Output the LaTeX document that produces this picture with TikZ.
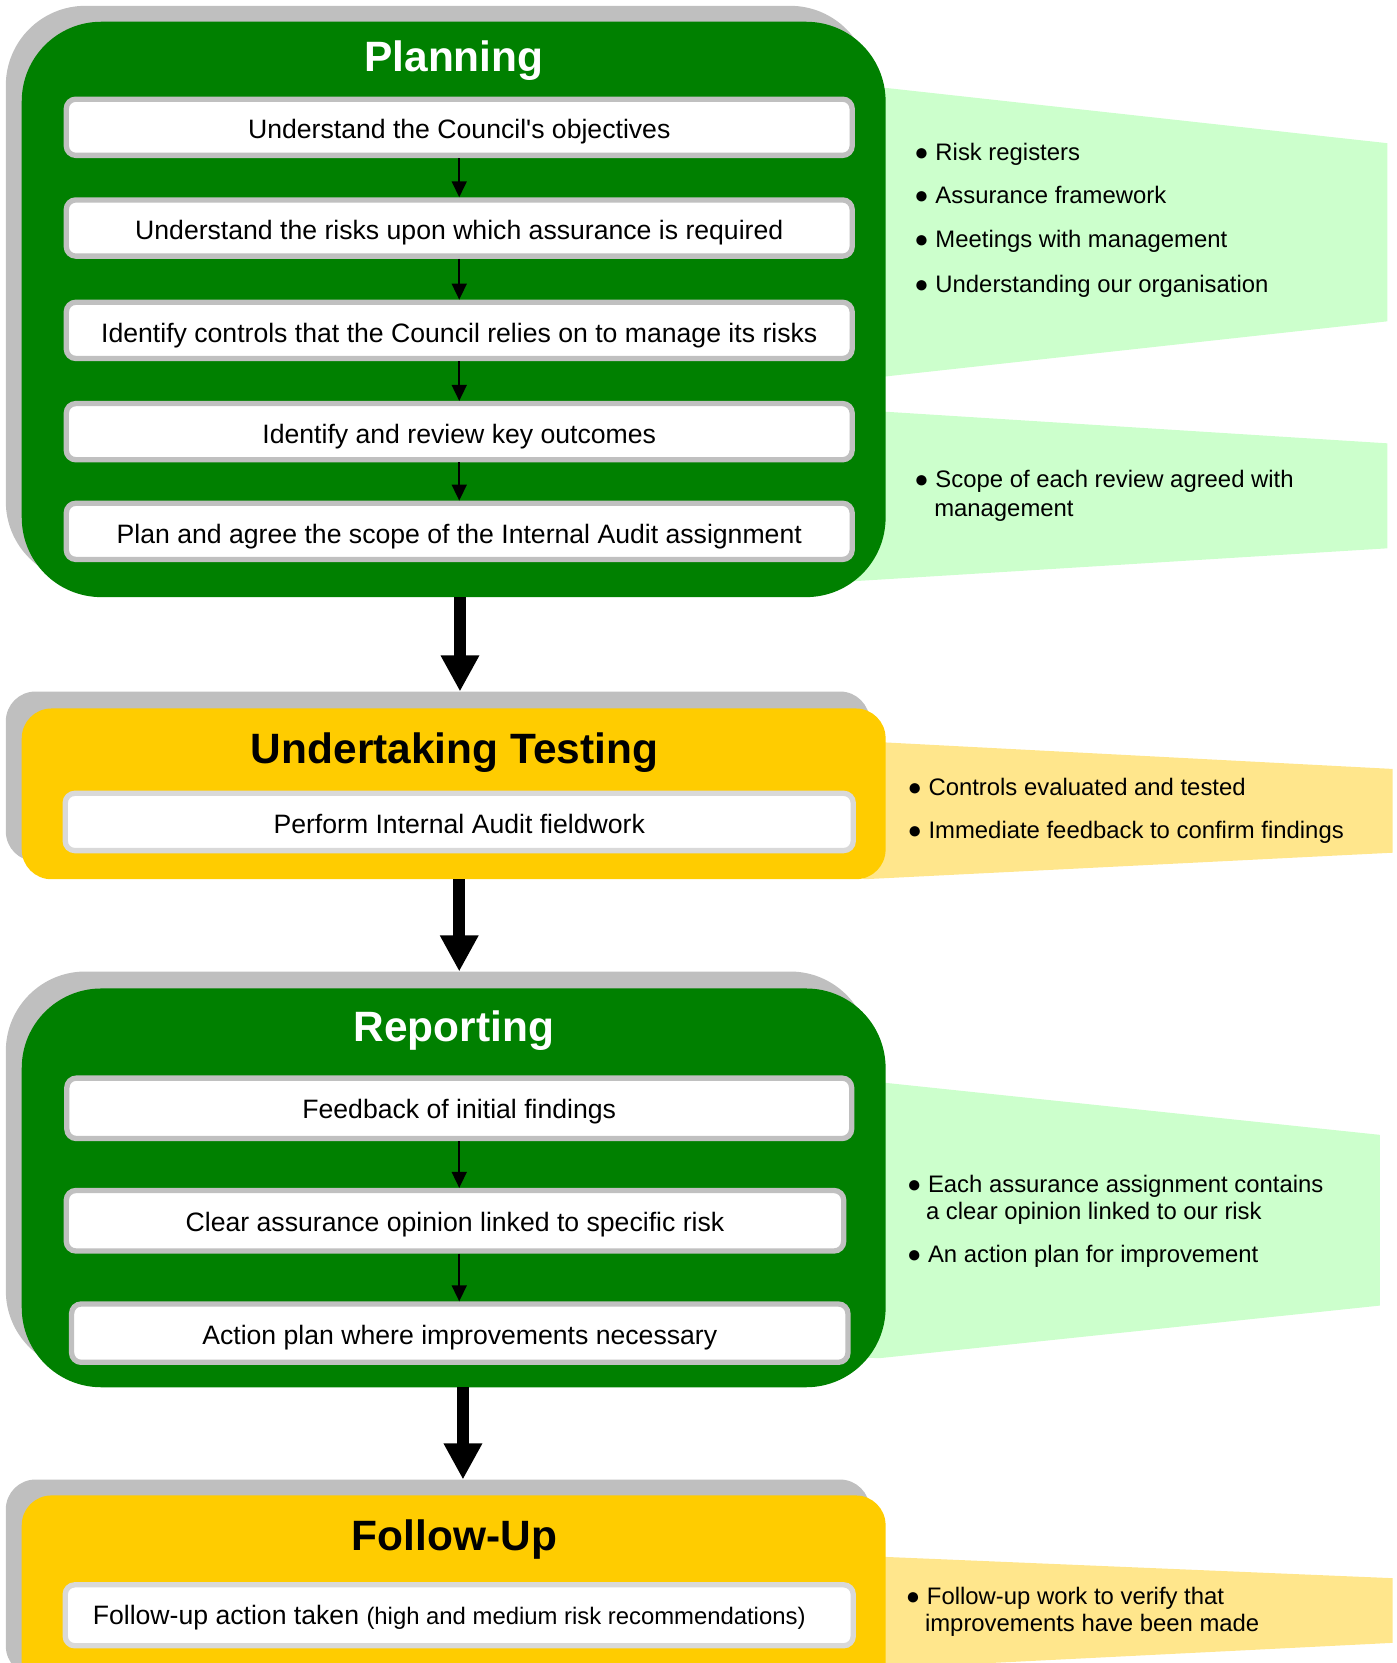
\documentclass[tikz,border=0pt]{standalone}
\usepackage{fontspec}
\setmainfont{Liberation Sans}[Ligatures=TeXOff]
\usetikzlibrary{arrows.meta,calc}
\definecolor{phgreen}{HTML}{008000}
\definecolor{palegreen}{HTML}{CCFFCC}
\definecolor{phgold}{HTML}{FFCC00}
\definecolor{paleyellow}{HTML}{FFE68C}
\definecolor{shadowgray}{HTML}{BFBFBF}
\definecolor{boxgray}{HTML}{C0C0C0}
\definecolor{boxlight}{HTML}{D9D9D9}
\begin{document}
\begin{tikzpicture}[x=1pt,y=-1pt,
  phase/.style={inner sep=0pt, outer sep=0pt, minimum width=814.5pt},
  stepbox/.style={draw=boxgray, fill=white, line width=5pt, rounded corners=9pt,
     inner sep=0pt, outer sep=0pt, minimum width=741pt, minimum height=53pt,
     text height=22pt, text depth=0pt, font=\fontsize{25.1}{30}\selectfont},
  lightbox/.style={stepbox, draw=boxlight},
  phtitle/.style={anchor=base, inner sep=0pt, font=\fontsize{40}{48}\selectfont\bfseries},
  note/.style={anchor=base west, inner sep=0pt, font=\fontsize{22.5}{27}\selectfont},
  smallarrow/.style={line width=1.8pt, -{Triangle[length=15pt,width=14pt]}, shorten <=2.5pt, shorten >=2.5pt},
  bigarrow/.style={line width=11.5pt, -{Triangle[length=34pt,width=34pt]}}
]
\path[use as bounding box] (0,0) rectangle (1317,1568);
\clip (0,0) rectangle (1317,1568);

% callouts
\fill[palegreen] (800,79) -- (1308,135) -- (1308,303) -- (800,358.8) -- cycle;
\fill[palegreen] (800,386) -- (1308,418) -- (1308,517) -- (800,548.3) -- cycle;
\fill[paleyellow] (800,698.2) -- (1313,725) -- (1313,804) -- (815,829) -- (800,820) -- cycle;
\fill[palegreen] (800,1017.3) -- (1301,1070) -- (1301,1231) -- (830,1280.5) -- (800,1280) -- cycle;
\fill[paleyellow] (800,1466.5) -- (1313,1488) -- (1313,1549) -- (834,1573) -- (800,1575) -- cycle;

% phase shadows and boxes
\node[phase, fill=shadowgray, rounded corners=75pt, minimum height=542.5pt] (plansh) at (412.75,276.75) {};
\node[phase, fill=phgreen, rounded corners=75pt, minimum height=542.5pt] (plan) at (427.75,291.75) {};
\node[phase, fill=shadowgray, rounded corners=28pt, minimum height=160pt] (testsh) at (412.75,732) {};
\node[phase, fill=phgold, rounded corners=28pt, minimum height=161pt] (test) at (427.75,748.5) {};
\node[phase, fill=shadowgray, rounded corners=75pt, minimum height=376pt] (repsh) at (412.75,1104) {};
\node[phase, fill=phgreen, rounded corners=75pt, minimum height=376pt] (rep) at (427.75,1120) {};
\node[phase, fill=shadowgray, rounded corners=28pt, minimum height=185pt] (folsh) at (412.75,1487.5) {};
\node[phase, fill=phgold, rounded corners=28pt, minimum height=190pt] (fol) at (427.75,1505) {};

% titles
\node[phtitle, text=white] (plantitle) at (428,67) {Planning};
\node[phtitle, text=black] (testtitle) at (428.5,719.6) {Undertaking Testing};
\node[phtitle, text=white] (reptitle) at (428,982) {Reporting};
\node[phtitle, text=black] (foltitle) at (428.5,1462) {Follow-Up};

% planning steps
\node[stepbox] (p1) at (433,120) {Understand the Council's objectives};
\node[stepbox] (p2) at (433,215) {Understand the risks upon which assurance is required};
\node[stepbox] (p3) at (433,311.5) {Identify controls that the Council relies on to manage its risks};
\node[stepbox] (p4) at (433,407) {Identify and review key outcomes};
\node[stepbox] (p5) at (433,501) {Plan and agree the scope of the Internal Audit assignment};
\draw[smallarrow] (p1.south) -- (p2.north);
\draw[smallarrow] (p2.south) -- (p3.north);
\draw[smallarrow] (p3.south) -- (p4.north);
\draw[smallarrow] (p4.south) -- (p5.north);

% testing step
\node[lightbox, minimum width=743pt, minimum height=54pt] (t1) at (433,775) {Perform Internal Audit fieldwork};

% reporting steps
\node[stepbox, minimum width=740pt, minimum height=57pt, text height=20pt] (r1) at (433,1045) {Feedback of initial findings};
\node[stepbox, minimum width=733pt, minimum height=57pt, text height=20pt] (r2) at (429,1151) {Clear assurance opinion linked to specific risk};
\node[stepbox, minimum width=732pt, minimum height=55pt, text height=22pt] (r3) at (433.5,1257) {Action plan where improvements necessary};
\draw[smallarrow] (r1.south) -- (r1.south |- r2.north);
\draw[smallarrow] (r1.south |- r2.south) -- (r1.south |- r3.north);

% follow-up step
\node[lightbox, minimum width=743pt, minimum height=57.5pt, text height=18pt] (f1) at (433,1523)
  {Follow-up action taken {\fontsize{22.5}{27}\selectfont(high and medium risk recommendations)}\hbox to 19pt{}};

% big arrows
\coordinate (ax1) at (433.7,0);
\coordinate (ax2) at (433,0);
\coordinate (ax3) at (436.5,0);
\draw[bigarrow] (plan.south -| ax1) -- (testsh.north -| ax1);
\draw[bigarrow] (test.south -| ax2) -- (repsh.north -| ax2);
\draw[bigarrow] (rep.south -| ax3) -- (folsh.north -| ax3);

% notes
\node[note] (n1) at (862,151) {● Risk registers};
\node[note] (n2) at (862,192) {● Assurance framework};
\node[note] (n3) at (862,233.4) {● Meetings with management};
\node[note] (n4) at (862,275.8) {● Understanding our organisation};
\node[note] (n5) at (862,460) {● Scope of each review agreed with};
\node[note] (n5b) at (880.7,487) {management};
\node[note] (n6) at (855.5,749.6) {● Controls evaluated and tested};
\node[note] (n7) at (855.5,790.4) {● Immediate feedback to confirm findings};
\node[note] (n8) at (855,1124.4) {● Each assurance assignment contains};
\node[note] (n8b) at (873,1150) {a clear opinion linked to our risk};
\node[note] (n9) at (855,1190.4) {● An action plan for improvement};
\node[note] (n10) at (854,1512.5) {● Follow-up work to verify that};
\node[note] (n10b) at (872,1538) {improvements have been made};
\end{tikzpicture}
\end{document}
